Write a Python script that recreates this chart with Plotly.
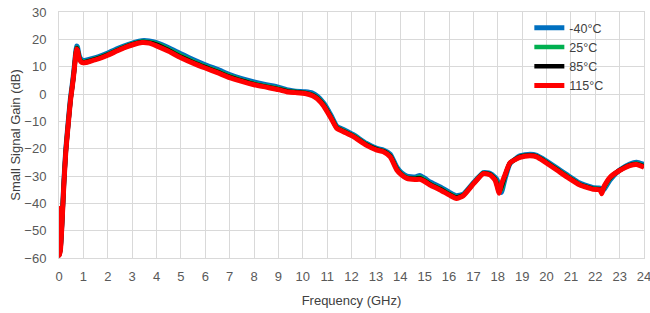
import plotly.graph_objects as go

freq_ghz = [0, 0.02, 0.06, 0.12, 0.2, 0.28, 0.38, 0.47, 0.55, 0.61,
            0.67, 0.72, 0.76, 0.8, 0.86, 0.93, 1.0, 1.1, 1.3, 1.6,
            2.0, 2.4, 2.8, 3.1, 3.4, 3.7, 4.0, 4.5, 5.0, 5.5,
            6.0, 6.5, 7.0, 7.5, 8.0, 8.5, 9.0, 9.4, 9.7, 10.1,
            10.4, 10.6, 10.85, 11.05, 11.2, 11.4, 11.67, 12.08, 12.6, 13.04,
            13.31, 13.59, 13.86, 14.05, 14.27, 14.6, 14.8, 15.0, 15.22, 15.64,
            16.02, 16.3, 16.59, 17.0, 17.41, 17.68, 17.89, 17.98, 18.05, 18.15,
            18.3, 18.5, 18.91, 19.32, 19.6, 19.87, 20.42, 20.83, 21.37, 21.92,
            22.15, 22.22, 22.27, 22.35, 22.6, 23.0, 23.42, 23.7, 24.0]

gain_m40 = [-41, -58, -56, -47, -32, -20, -10, -1.5, 4, 8.5,
            14, 17.5, 17.2, 15.2, 13.3, 12.5, 12.3, 12.4, 12.8, 13.6,
            15.0, 16.6, 18.0, 18.9, 19.5, 19.4, 18.8, 16.9, 14.7, 12.6,
            10.7, 9.0, 7.1, 5.6, 4.4, 3.4, 2.5, 1.5, 1.0, 0.8,
            0.3, -0.8, -3.2, -6.0, -8.5, -11.8, -13.0, -14.9, -18.0, -19.9,
            -20.5, -22.0, -26.8, -28.8, -30.0, -30.4, -29.8, -30.8, -32.2, -34.0,
            -36.0, -37.2, -36.6, -32.5, -28.8, -29.0, -30.5, -31.5, -33.5, -36.0,
            -31.0, -25.5, -22.6, -22.0, -22.4, -23.8, -27.0, -29.5, -32.6, -34.3,
            -34.4, -34.5, -34.8, -35.0, -31.5, -27.8, -25.6, -25.0, -25.8]

gain_25 = [-41, -58.5, -56.5, -47.5, -32.5, -20.5, -10.5, -2, 3.5, 8,
           13.5, 17, 16.6, 14.6, 12.8, 12.0, 11.9, 12.0, 12.4, 13.2,
           14.6, 16.2, 17.7, 18.6, 19.2, 19.0, 18.4, 16.4, 14.1, 12.0,
           10.1, 8.4, 6.6, 5.1, 3.9, 2.9, 2.0, 1.1, 0.8, 0.5,
           -0.2, -1.3, -3.7, -6.6, -9.0, -12.2, -13.4, -15.2, -18.3, -20.2,
           -20.8, -22.5, -27.3, -29.2, -30.5, -30.8, -30.4, -31.4, -32.8, -34.6,
           -36.5, -37.7, -36.9, -32.7, -28.9, -29.3, -31.0, -32.5, -35.5, -35.0,
           -30.0, -25.3, -22.9, -22.3, -22.7, -24.1, -27.4, -29.9, -33.0, -34.6,
           -34.7, -35.0, -35.5, -34.5, -31.0, -27.9, -25.9, -25.4, -26.3]

gain_85 = [-41, -59, -57, -48, -33, -21, -11, -2.5, 3, 7.5,
           13, 16.7, 16.3, 14.2, 12.5, 11.8, 11.6, 11.7, 12.2, 13.0,
           14.4, 16.0, 17.5, 18.4, 19.0, 18.8, 18.1, 16.0, 13.6, 11.6,
           9.8, 8.1, 6.3, 4.9, 3.6, 2.7, 1.8, 0.9, 0.7, 0.4,
           -0.4, -1.5, -4.0, -6.9, -9.3, -12.4, -13.6, -15.4, -18.5, -20.3,
           -20.9, -22.7, -27.5, -29.4, -30.7, -31.0, -30.8, -31.7, -33.0, -34.8,
           -36.7, -37.9, -37.0, -32.8, -29.0, -29.4, -31.2, -33.5, -36.0, -34.0,
           -29.8, -25.3, -23.0, -22.4, -22.8, -24.3, -27.6, -30.1, -33.1, -34.7,
           -34.8, -35.2, -36.0, -34.2, -30.7, -27.9, -26.0, -25.6, -26.5]

gain_115 = [-41, -59, -57, -48, -33, -21, -11, -2.5, 3, 7.5,
            13, 16.5, 16, 14, 12.3, 11.6, 11.4, 11.5, 12, 12.8,
            14.2, 15.8, 17.3, 18.2, 18.8, 18.6, 17.6, 15.6, 13.3, 11.3,
            9.5, 7.8, 6.0, 4.6, 3.4, 2.5, 1.6, 0.7, 0.5, 0.2,
            -0.6, -1.8, -4.3, -7.2, -9.5, -12.6, -13.8, -15.6, -18.7, -20.5,
            -21.1, -23.0, -27.8, -29.6, -30.9, -31.3, -31.2, -32.0, -33.3, -35.1,
            -37.0, -38.2, -37.2, -32.9, -29.1, -29.6, -31.5, -34, -36.3, -33,
            -29.5, -25.2, -23.2, -22.6, -23.0, -24.5, -27.8, -30.3, -33.3, -34.9,
            -35.0, -35.5, -36.5, -34, -30.5, -28.0, -26.2, -25.8, -26.8]

series_names = ["-40°C", "25°C", "85°C", "115°C"]
series_values = [gain_m40, gain_25, gain_85, gain_115]
series_colors = ["#0070C0", "#00B050", "#000000", "#FF0000"]
series_widths = [5, 4.5, 4.5, 5]

fig = go.Figure()
for name, vals, col, w in zip(series_names, series_values, series_colors, series_widths):
    fig.add_trace(go.Scatter(
        x=freq_ghz, y=vals, mode="lines", name=name,
        line=dict(color=col, width=w, shape="spline", smoothing=0.5),
    ))

grid = "#D9D9D9"
fig.update_layout(
    width=650, height=313,
    margin=dict(l=58.5, r=6, t=12, b=55),
    paper_bgcolor="white", plot_bgcolor="white",
    font=dict(family="Liberation Sans, Arial, sans-serif", size=13, color="#595959"),
    showlegend=True,
    legend=dict(
        x=0.804, y=0.995, xanchor="left", yanchor="top",
        bgcolor="rgba(0,0,0,0)", borderwidth=0,
        font=dict(size=12.5, color="#404040"),
        tracegroupgap=0,
    ),
    xaxis=dict(
        range=[0, 24], dtick=1, tick0=0, automargin=False,
        showgrid=True, gridcolor=grid, gridwidth=1,
        showline=True, linecolor=grid, linewidth=1, mirror=True,
        zeroline=False, ticklabeloverflow="allow",
        ticks="outside", ticklen=6, tickcolor="rgba(0,0,0,0)",
        title=dict(text="Frequency (GHz)", font=dict(size=13, color="#404040"), standoff=13),
    ),
    yaxis=dict(
        range=[-60, 30], dtick=10, tick0=0, automargin=False,
        showgrid=True, gridcolor=grid, gridwidth=1,
        showline=True, linecolor=grid, linewidth=1, mirror=True,
        zeroline=False, ticklabeloverflow="allow",
        ticks="outside", ticklen=9, tickcolor="rgba(0,0,0,0)",
        title=dict(text="Small Signal Gain (dB)", font=dict(size=13, color="#404040"), standoff=0),
    ),
)

fig.write_html("out.html", config={"displayModeBar": False},
               post_script="document.body.style.margin='0';")
